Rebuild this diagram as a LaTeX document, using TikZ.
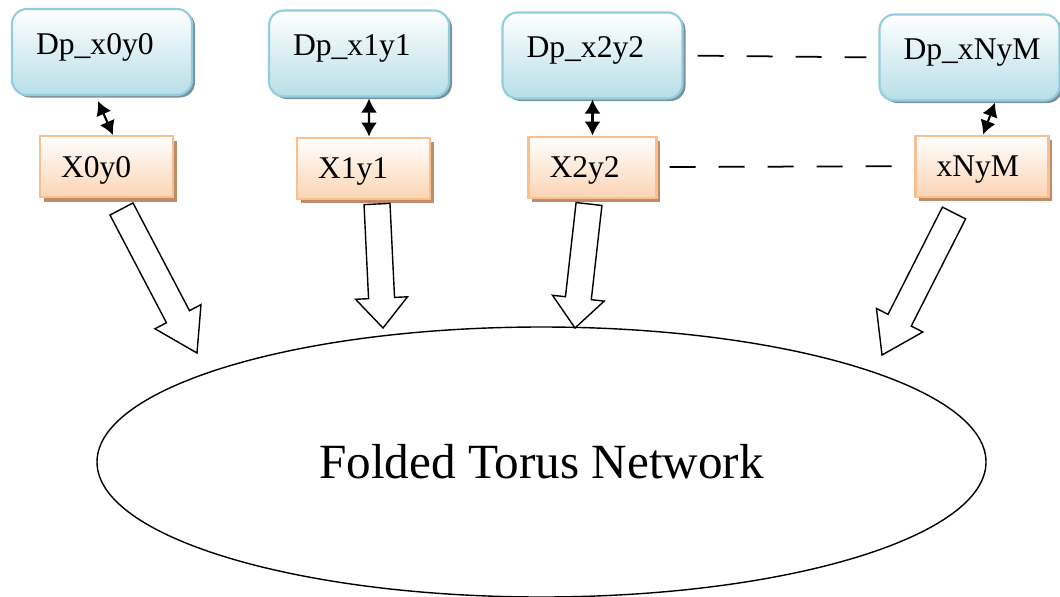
\documentclass[tikz,border=0pt]{standalone}
\usepackage{fontspec}
\setmainfont{Liberation Serif}
\usetikzlibrary{positioning,calc,shapes.geometric,shadows,arrows.meta}
\definecolor{dpline}{RGB}{146,205,221}
\definecolor{dpfill}{RGB}{183,222,232}
\definecolor{dpshade}{RGB}{125,145,155}
\definecolor{xyline}{RGB}{250,191,143}
\definecolor{xyfill}{RGB}{251,212,180}
\definecolor{xyshade}{RGB}{190,140,105}
\tikzset{
 dp/.style
  = {rectangle, draw=dpline, line width=1.2pt, top color=white, bottom color=dpfill,
     rounded corners=0.3cm, minimum height=1.72cm, text width=2.64cm, align=left,
     inner xsep=0.48cm, inner ysep=0pt, text height=0.42cm, text depth=0.34cm,
     font=\fontsize{18}{21}\selectfont,
     general shadow={fill=dpshade, shadow xshift=0.06cm, shadow yshift=-0.05cm}},
 xy/.style
  = {rectangle, draw=xyline, line width=1.2pt, top color=white, bottom color=xyfill,
     minimum height=1.22cm, text width=1.82cm, align=left,
     inner xsep=0.42cm, inner ysep=0pt, text height=0.42cm, text depth=0pt,
     font=\fontsize{18}{21}\selectfont,
     general shadow={fill=xyshade, shadow xshift=0.07cm, shadow yshift=-0.09cm}},
 net/.style
  = {ellipse, draw, thick, minimum width=17.78cm, minimum height=5.4cm, inner sep=0pt,
     font=\fontsize{28}{33}\selectfont},
 lk/.style
  = {draw, line width=1.2pt, {Latex[length=0.28cm,width=0.32cm]}-{Latex[length=0.28cm,width=0.32cm]}},
 ld/.style
  = {draw, line width=1pt, dash pattern=on 0.52cm off 0.46cm},
 fat/.style
  = {draw, thick, fill=white, line join=miter}
}
% block arrow: tail, tip, head length
\newcommand{\fatarrow}[3]{%
  \coordinate (#1-b) at ($(#2)!#3!(#1)$);
  \path [fat] ($(#1)!0.26cm!90:(#2)$) -- ($(#1-b)!0.26cm!90:(#2)$)
    -- ($(#1-b)!0.52cm!90:(#2)$) -- (#2) -- ($(#1-b)!0.52cm!-90:(#2)$)
    -- ($(#1-b)!0.26cm!-90:(#2)$) -- ($(#1)!0.26cm!-90:(#2)$) -- cycle;}

\begin{document}
\begin{tikzpicture}
    \useasboundingbox (0,0) rectangle (21.2,-11.92);
    \node [dp] (d0) at (2.04,-1.04) {Dp\_x0y0};
    \node [dp] (d1) at (7.18,-1.07) {Dp\_x1y1};
    \node [dp] (d2) at (11.85,-1.11) {Dp\_x2y2};
    \node [dp] (dN) at (19.39,-1.15) {Dp\_xNyM};
    \node [xy, below = 0.78cm of d0, xshift=0.09cm] (x0) {X0y0};
    \node [xy, below = 0.78cm of d1, xshift=0.09cm] (x1) {X1y1};
    \node [xy, below = 0.72cm of d2, text width=1.72cm] (x2) {X2y2};
    \node [xy, below = 0.66cm of dN, xshift=0.25cm] (xN) {xNyM};
    \node [net] (torus) at (10.83,-9.24) {Folded Torus Network};

    \path [lk] ([xshift=-0.08cm,yshift=-0.1cm]d0.south) -- ([xshift=0.13cm]x0.north);
    \path [lk] ([xshift=0.2cm,yshift=-0.02cm]d1.south) -- ([xshift=0.11cm]x1.north);
    \path [lk] (d2.south) -- (x2.north);
    \path [lk] ([xshift=0.51cm,yshift=-0.02cm]dN.south) -- ([xshift=0.02cm]xN.north);
    \path [ld, shorten <=0.28cm, shorten >=0.24cm] (d2.east) -- (dN.west);
    \path [ld, shorten <=0.24cm, shorten >=0.2cm] (x2.east) -- (xN.west);

    \coordinate (t0) at (2.43,-4.18);  \coordinate (h0) at (3.94,-7.06);
    \coordinate (t1) at (7.54,-4.08);  \coordinate (h1) at (7.66,-6.56);
    \coordinate (t2) at (11.78,-4.08); \coordinate (h2) at (11.5,-6.56);
    \coordinate (t3) at (19.08,-4.26); \coordinate (h3) at (17.64,-7.1);
    \fatarrow{t0}{h0}{0.82cm}
    \fatarrow{t1}{h1}{0.6cm}
    \fatarrow{t2}{h2}{0.6cm}
    \fatarrow{t3}{h3}{0.78cm}
\end{tikzpicture}
\end{document}
